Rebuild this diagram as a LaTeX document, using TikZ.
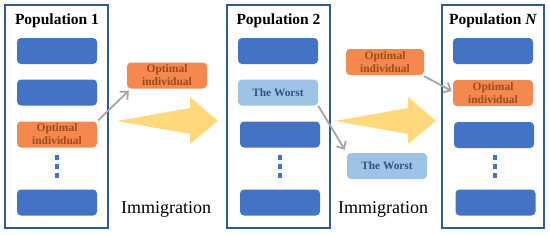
\documentclass[tikz,border=0pt]{standalone}
\usepackage{fontspec}
\setmainfont{Liberation Serif}
\usetikzlibrary{arrows.meta}
\definecolor{popborder}{HTML}{2F5C8F}
\definecolor{blueind}{HTML}{4472C4}
\definecolor{orangeind}{HTML}{F5884E}
\definecolor{orangetext}{HTML}{9C4A1E}
\definecolor{lightind}{HTML}{9DC3E6}
\definecolor{worsttext}{HTML}{2F527E}
\definecolor{yellowarrow}{HTML}{FFD97C}
\definecolor{grayarrow}{HTML}{A5A5A5}
\begin{document}
\begin{tikzpicture}[x=1pt,y=-1pt,
  popframe/.style={draw=popborder,line width=2pt,fill=white},
  poptitle/.style={font=\fontsize{15.5}{17}\selectfont\bfseries,inner sep=0pt},
  ind/.style={rounded corners=4pt,minimum width=80pt,minimum height=26pt,inner sep=0pt,align=center},
  blueb/.style={ind,fill=blueind},
  orangeb/.style={ind,fill=orangeind,text=orangetext,font=\fontsize{11.5}{13}\selectfont\bfseries},
  worstb/.style={ind,fill=lightind,text=worsttext,font=\fontsize{11.3}{13}\selectfont\bfseries},
  dotsq/.style={fill=blueind,minimum size=4.5pt,inner sep=0pt},
  mig/.style={draw=grayarrow,line width=1.8pt,-{Straight Barb[length=6pt,width=11pt]}},
  bigarrow/.style={fill=yellowarrow},
  label/.style={font=\fontsize{18}{20}\selectfont,inner sep=0pt}]
\useasboundingbox (0,0) rectangle (550,234);
% frames
\draw[popframe] (5,5) rectangle (108,228);
\draw[popframe] (227,5) rectangle (330,228);
\draw[popframe] (442,5) rectangle (544,228);
% titles
\node[poptitle] (t1) at (57,21) {Population 1};
\node[poptitle] (t2) at (278.5,21) {Population 2};
\node[poptitle] (tN) at (493,21) {Population \textit{N}};
% population 1
\node[blueb] (p1a) at (57,51) {};
\node[blueb] (p1b) at (57,92.5) {};
\node[orangeb] (p1o) at (57,134.5) {Optimal\\individual};
\node[dotsq] (p1d1) at (57,157.5) {};
\node[dotsq] (p1d2) at (57,166.5) {};
\node[dotsq] (p1d3) at (57,175.5) {};
\node[blueb] (p1c) at (57,202.5) {};
% population 2
\node[blueb] (p2a) at (278,51) {};
\node[worstb] (p2w) at (278,92.5) {The Worst};
\node[blueb] (p2b) at (280,134.5) {};
\node[dotsq] (p2d1) at (280,157.5) {};
\node[dotsq] (p2d2) at (280,166.5) {};
\node[dotsq] (p2d3) at (280,175.5) {};
\node[blueb] (p2c) at (280,202.5) {};
% population N
\node[blueb] (pNa) at (493,51) {};
\node[orangeb] (pNo) at (493,93) {Optimal\\individual};
\node[blueb] (pNb) at (494,135) {};
\node[dotsq] (pNd1) at (495,157.5) {};
\node[dotsq] (pNd2) at (495,166.5) {};
\node[dotsq] (pNd3) at (495,175.5) {};
\node[blueb] (pNc) at (495.5,202.5) {};
% migrants
\node[orangeb] (e1) at (167,75.5) {Optimal\\individual};
\node[orangeb,minimum width=78pt] (e2) at (385,62) {Optimal\\individual};
\node[worstb] (ew) at (387,166) {The Worst};
% big yellow arrows
\fill[bigarrow] (117,121) -- (190,108) -- (190,97) -- (218,121) -- (190,144) -- (190,134) -- cycle;
\fill[bigarrow] (335,121) -- (408,108) -- (408,97) -- (436,121) -- (408,144) -- (408,134) -- cycle;
% gray arrows
\draw[mig] ([shift={(1,-1)}]p1o.north east) -- ([shift={(2,2)}]e1.south west);
\draw[mig] (p2w.south east) -- ([shift={(-2,-3)}]ew.north west);
\draw[mig] ([shift={(0,1)}]e2.south east) -- ([shift={(-1,-2)}]pNo.west);
% labels
\node[label] (im1) at (166,209) {Immigration};
\node[label] (im2) at (383,209) {Immigration};
\end{tikzpicture}
\end{document}
